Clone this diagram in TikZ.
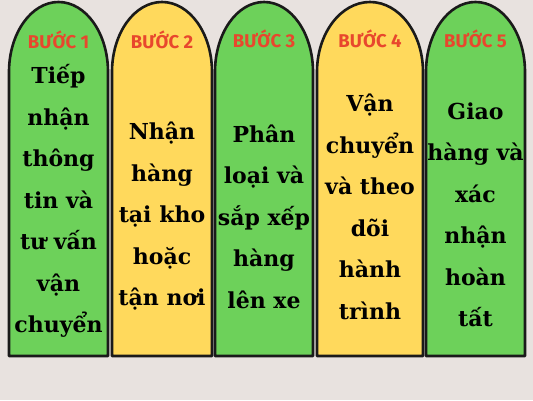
\documentclass[tikz,border=0pt]{standalone}
\usepackage{fontspec}
\setmainfont{DejaVu Serif}
\newfontfamily\headfont{Fira Sans}
\definecolor{bgc}{HTML}{E8E2DF}
\definecolor{cgreen}{HTML}{6DD15A}
\definecolor{cyellow}{HTML}{FFD95C}
\definecolor{hred}{HTML}{E8472D}
\definecolor{edge}{HTML}{1A1A1A}
\tikzset{
  cardline/.style={draw=edge, line width=2.6pt, line join=round},
  headtxt/.style={font=\headfont\bfseries\fontsize{18.5}{20}\selectfont, text=hred, inner sep=0pt},
  bodytxt/.style={font=\fontsize{22}{41.5}\selectfont\bfseries, text=black, align=center, inner sep=0pt},
}
\newcommand\archcard[3]{%
  \draw[cardline, fill=#3] (#1,44) -- (#1,328)
    arc[start angle=180, end angle=0, x radius={(#2-#1)/2}, y radius=70] -- (#2,44) -- cycle;}
\begin{document}
\begin{tikzpicture}[x=1pt,y=1pt]
\fill[bgc] (0,0) rectangle (533,400);
\useasboundingbox (0,0) rectangle (533,400);
\archcard{9}{108}{cgreen}
\archcard{112}{212}{cyellow}
\archcard{215}{313}{cgreen}
\archcard{317}{423}{cyellow}
\archcard{426}{525}{cgreen}
\node[headtxt] (h1) at (58.5,360) {BƯỚC 1};
\node[headtxt] (h2) at (162,360) {BƯỚC 2};
\node[headtxt] (h3) at (264,361) {BƯỚC 3};
\node[headtxt] (h4) at (370,361) {BƯỚC 4};
\node[headtxt] (h5) at (475.5,361) {BƯỚC 5};
\node[bodytxt] (t1) at (58.5,199) {Tiếp\\nhận\\thông\\tin và\\tư vấn\\vận\\chuyển};
\node[bodytxt] (t2) at (162,183.5) {Nhận\\hàng\\tại kho\\hoặc\\tận nơi};
\node[bodytxt] (t3) at (264,183.5) {Phân\\loại và\\sắp xếp\\hàng\\lên xe};
\node[bodytxt] (t4) at (370,193) {Vận\\chuyển\\và theo\\dõi\\hành\\trình};
\node[bodytxt] (t5) at (475.5,185) {Giao\\hàng và\\xác\\nhận\\hoàn\\tất};
\end{tikzpicture}
\end{document}
